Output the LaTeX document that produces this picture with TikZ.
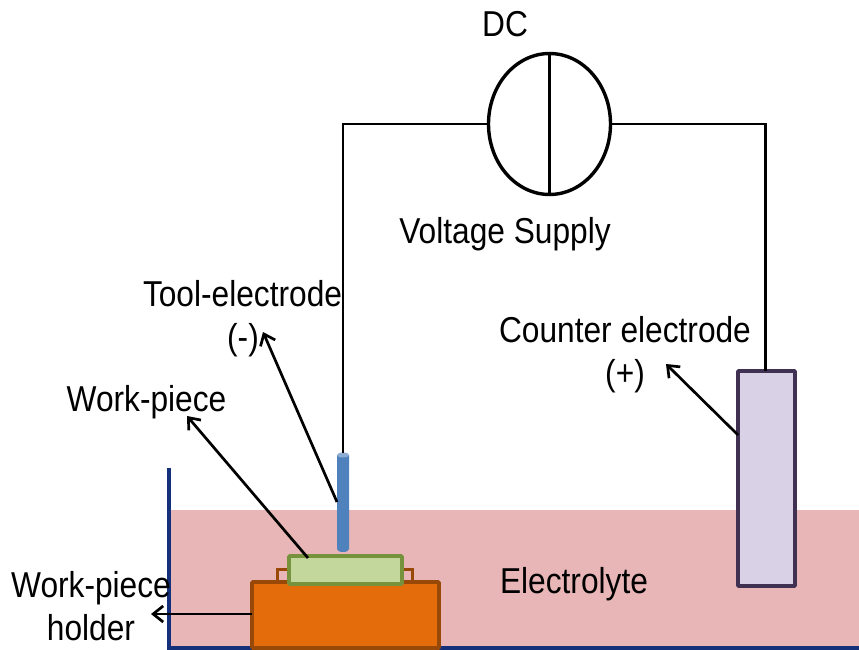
\documentclass[tikz,border=0pt]{standalone}
\usepackage{fontspec}
\setmainfont[FakeStretch=0.88]{Liberation Sans}
\usetikzlibrary{arrows.meta,shapes.geometric}
\definecolor{elec}{HTML}{E8B6B6}
\definecolor{toolc}{HTML}{4F81BD}
\definecolor{wpf}{HTML}{C3D69B}
\definecolor{wpd}{HTML}{76923C}
\definecolor{hof}{HTML}{E46C0A}
\definecolor{hod}{HTML}{984807}
\definecolor{cof}{HTML}{D9D2E6}
\definecolor{cod}{HTML}{403152}
\definecolor{tank}{HTML}{14307A}
\tikzset{
 x=1pt,y=-1pt,
 wire/.style={draw=black,line width=2.8pt},
 lead/.style={draw=black,line width=2.7pt,-{Straight Barb[length=10pt,width=16pt,line width=2.7pt]}},
 box/.style={rectangle,minimum width=#1,inner sep=0pt,outer sep=0pt,rounded corners=0.8pt},
 lab/.style={inner sep=0pt,anchor=base,font=\fontsize{36}{36}\selectfont,text=black},
}
\begin{document}
\begin{tikzpicture}
\useasboundingbox (0,0) rectangle (859,650);
% electrolyte and tank
\fill[elec] (170,510) rectangle (859,648);
\coordinate (tanktop) at (169,468);
\coordinate (tankcorner) at (169,648);
\coordinate (tankend) at (859,648);
\draw[tank,line width=3.2pt] (tanktop) -- (tankcorner) -- (tankend);
% work-piece holder clips
\coordinate (clA) at (277,582);
\coordinate (clB) at (277,569.5);
\coordinate (clC) at (291,569.5);
\coordinate (crA) at (412,582);
\coordinate (crB) at (412,569.5);
\coordinate (crC) at (400,569.5);
\draw[hod,line width=3pt] (clA) -- (clB) -- (clC);
\draw[hod,line width=3pt] (crA) -- (crB) -- (crC);
% holder, work-piece, tool, counter electrode
\node[box=187pt,minimum height=66pt,fill=hof,draw=hod,line width=3.6pt] (holder) at (345.5,615) {};
\node[box=113pt,minimum height=28pt,fill=wpf,draw=wpd,line width=3.6pt] (workpiece) at (345.5,570) {};
\fill[toolc] (337,455) rectangle (349,549) arc[start angle=0,end angle=180,x radius=6pt,y radius=-3pt] -- cycle;
\fill[toolc!65!white] (343,455) ellipse[x radius=6pt,y radius=2.5pt];
\node[rectangle,minimum width=12pt,minimum height=100pt,inner sep=0pt,outer sep=0pt] (tool) at (343,502) {};
\node[box=57pt,minimum height=215pt,fill=cof,draw=cod,line width=3.8pt] (counter) at (766.5,478.5) {};
% supply
\node[ellipse,minimum width=122pt,minimum height=141pt,inner sep=0pt,outer sep=0pt,draw=black,line width=3.4pt,fill=white] (supply) at (549.5,124) {};
\draw[wire,line width=3.4pt] (supply.north) -- (supply.south);
% wires
\coordinate (wl) at (343,124);
\coordinate (wr) at (765.5,124);
\draw[wire,line cap=rect] (tool.north) -- (wl) -- (supply.west);
\draw[wire] (supply.east) -- (wr) -- (wr |- counter.north);
% labels
\node[lab] (dc) at (505,37) {DC};
\node[lab] (vs) at (505,243) {Voltage Supply};
\node[lab] (te) at (242.5,306) {Tool-electrode};
\node[lab] (tm) at (243,349) {(-)};
\node[lab] (ce) at (625,342) {Counter electrode};
\node[lab] (cp) at (625,385) {(+)};
\node[lab] (wp) at (146.5,411) {Work-piece};
\node[lab] (wh) at (91,597) {Work-piece};
\node[lab] (hl) at (91,640) {holder};
\node[lab] (el) at (574,593) {Electrolyte};
% pointers
\coordinate (pc) at (666,364);
\coordinate (pt) at (263,332);
\coordinate (pw) at (187,416);
\coordinate (ph) at (151,614);
\coordinate (cs) at (738,435);
\coordinate (ts) at (337,502);
\coordinate (ws) at (308,558);
\draw[lead] (cs) -- (pc);
\draw[lead] (ts) -- (pt);
\draw[lead] (ws) -- (pw);
\draw[lead] (holder.west |- ph) -- (ph);
\end{tikzpicture}
\end{document}
